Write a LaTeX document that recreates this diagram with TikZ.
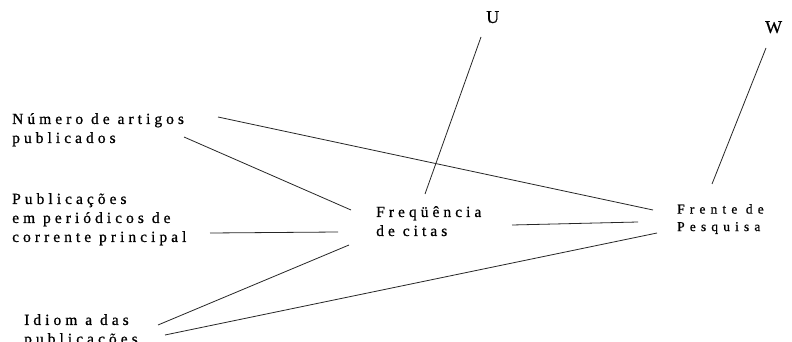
\documentclass[tikz,border=0pt]{standalone}
\usepackage{fontspec}
\setmainfont{Liberation Serif}
\newfontfamily\lblfont[LetterSpace=26,FakeBold=0.8]{Liberation Serif}
\newfontfamily\lblfontb[LetterSpace=38,FakeBold=0.8]{Liberation Serif}
\newfontfamily\bigfont[FakeBold=0.6]{Liberation Serif}
\begin{document}
\begin{tikzpicture}[x=1pt,y=-1pt,
  lbl/.style={inner sep=0pt,anchor=north west,align=left,
    font=\lblfont\fontsize{15.5}{19}\selectfont},
  lblb/.style={inner sep=0pt,anchor=north west,align=left,
    font=\lblfontb\fontsize{13.5}{17.5}\selectfont},
  big/.style={inner sep=0pt,anchor=north west,font=\bigfont\fontsize{18}{19}\selectfont},
  conn/.style={draw=black!85,line width=0.8pt}]
\useasboundingbox (0,0) rectangle (792,342);
\clip (0,0) rectangle (792,342);
\fill[white] (0,0) rectangle (792,342);
% labels
\node[lbl] (num) at (12,113) {Número de artigos\\publicados};
\node[lbl] (pub) at (12,193) {Publicações\\em periódicos de\\corrente principal};
\node[lbl] (idi) at (24,314) {Idiom a das\\publicações};
\node[lbl] (freq) at (376,206) {Freqüência\\de citas};
\node[lblb] (fren) at (677,204) {Frente de\\Pesquisa};
\node[big] (u) at (486,11) {U};
\node[big] (w) at (765,21) {W};
% connector end points
\coordinate (numA) at (218,117);
\coordinate (numB) at (184,137);
\coordinate (pubA) at (210,233);
\coordinate (idiA) at (158,325);
\coordinate (idiB) at (165,335);
\coordinate (freqA) at (351,210);
\coordinate (freqB) at (338,232);
\coordinate (freqC) at (349,245);
\coordinate (freqR) at (512,225);
\coordinate (freqT) at (425,194);
\coordinate (frenA) at (653,210);
\coordinate (frenB) at (638,222);
\coordinate (frenC) at (657,233);
\coordinate (frenT) at (712,184);
\coordinate (uB) at (481,37);
\coordinate (wB) at (766,48);
% connectors
\draw[conn] (numA) -- (frenA);
\draw[conn] (numB) -- (freqA);
\draw[conn] (pubA) -- (freqB);
\draw[conn] (idiA) -- (freqC);
\draw[conn] (idiB) -- (frenC);
\draw[conn] (freqR) -- (frenB);
\draw[conn] (freqT) -- (uB);
\draw[conn] (frenT) -- (wB);
\end{tikzpicture}
\end{document}
